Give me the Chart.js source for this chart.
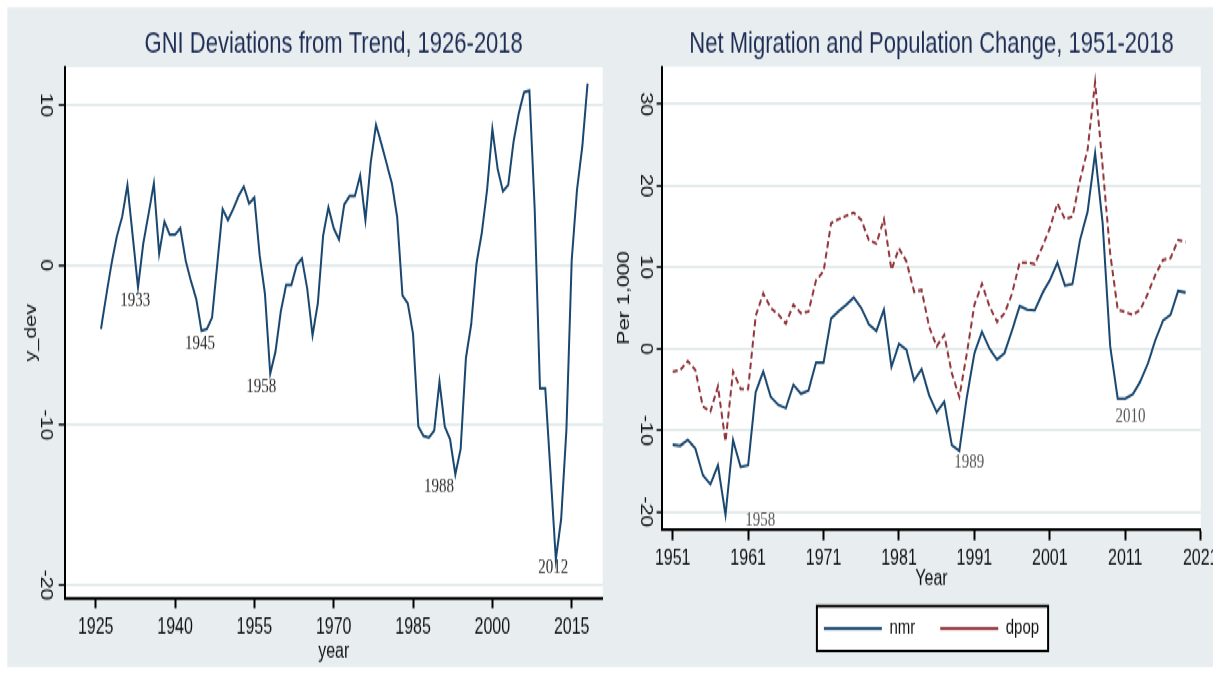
<!DOCTYPE html>
<html>
<head>
<meta charset="utf-8">
<script src="https://cdn.jsdelivr.net/npm/chart.js@4.4.1/dist/chart.umd.min.js"></script>
<style>
  html, body { margin: 0; padding: 0; background: #fff; overflow: hidden; }
  /* the source graph is stretched vertically, so draw at 500px tall and stretch */
  #stage { position: absolute; left: 0; top: 0; width: 1213px; height: 500px; transform: scaleY(1.348); transform-origin: 0 0; }
  .panel { position: absolute; top: 0; height: 500px; }
</style>
</head>
<body>
<div id="stage">
  <div class="panel" style="left:0;width:606px"><canvas id="gniChart"></canvas></div>
  <div class="panel" style="left:606px;width:607px"><canvas id="migChart"></canvas></div>
</div>
<script>
// ---- left panel: GNI deviations from trend ----
const gniFirstYear = 1926;
const gniDev = [
  -4.0, -1.9, 0.1, 1.8, 3.0, 5.0, 1.8, -1.4, 1.35, 3.2,        // 1926-1935
  5.1, 0.7, 2.7, 1.9, 1.9, 2.3, 0.3, -1.0, -2.1, -4.1,         // 1936-1945
  -4.0, -3.3, 0.1, 3.5, 2.8, 3.5, 4.3, 4.9, 3.85, 4.2,         // 1946-1955
  0.6, -1.8, -6.8, -5.4, -2.9, -1.25, -1.25, 0.0, 0.4, -1.5,   // 1956-1965
  -4.4, -2.4, 1.85, 3.6, 2.3, 1.6, 3.8, 4.3, 4.3, 5.6,         // 1966-1975
  2.8, 6.4, 8.75, 7.6, 6.35, 5.1, 3.0, -1.9, -2.4, -4.3,       // 1976-1985
  -10.1, -10.7, -10.8, -10.35, -7.3, -10.1, -10.9, -13.1, -11.5, -5.8, // 1986-1995
  -3.7, 0.1, 2.0, 4.7, 8.5, 6.0, 4.6, 5.0, 7.7, 9.5,           // 1996-2005
  10.8, 10.9, 3.5, -7.7, -7.7, -13.0, -18.4, -15.9, -10.3, 0.3, // 2006-2015
  4.7, 7.4, 11.35                                              // 2016-2018
];
const gniXTicks = [1925, 1940, 1955, 1970, 1985, 2000, 2015];
const gniYTicks = [-20, -10, 0, 10];
const gniNoteText = ['1933', '1945', '1958', '1988', '2012'];
const gniNoteX = [1932.5, 1944.7, 1956.3, 1989.9, 2011.5];
const gniNoteY = [-2.2, -4.9, -7.6, -13.9, -18.9];

// ---- right panel: net migration and population change ----
const migFirstYear = 1951;
const nmr = [
  -11.8, -11.9, -11.2, -12.2, -15.5, -16.6, -14.3, -20.4, -11.2, -14.5, // 1951-1960
  -14.3, -5.3, -2.8, -5.9, -6.9, -7.3, -4.4, -5.5, -5.1, -1.7,          // 1961-1970
  -1.7, 3.7, 4.6, 5.4, 6.3, 5.0, 3.0, 2.2, 4.8, -2.2,                   // 1971-1980
  0.6, -0.15, -3.9, -2.5, -5.7, -7.8, -6.5, -11.8, -12.5, -5.9,         // 1981-1990
  -0.55, 2.1, 0.0, -1.3, -0.5, 2.3, 5.25, 4.8, 4.7, 6.8,                // 1991-2000
  8.4, 10.6, 7.75, 7.95, 13.35, 16.8, 24.0, 15.4, 0.3, -6.1,            // 2001-2010
  -6.1, -5.55, -4.0, -1.8, 1.1, 3.45, 4.15, 7.1, 6.9                    // 2011-2019
];
const dpop = [
  -2.8, -2.6, -1.5, -2.6, -7.1, -7.7, -4.6, -11.4, -2.8, -4.9,          // 1951-1960
  -4.9, 4.0, 6.8, 5.0, 4.2, 3.1, 5.4, 4.35, 4.55, 8.4,                  // 1961-1970
  9.5, 15.4, 15.9, 16.3, 16.7, 15.8, 13.35, 12.9, 15.9, 9.7,            // 1971-1980
  12.3, 10.7, 7.0, 7.2, 2.7, 0.3, 1.7, -3.0, -5.9, -0.55,               // 1981-1990
  5.4, 7.95, 5.2, 3.3, 4.35, 6.8, 10.6, 10.6, 10.4, 12.5,               // 1991-2000
  14.8, 17.85, 15.9, 16.2, 20.7, 24.4, 32.7, 22.3, 11.7, 4.8,           // 2001-2010
  4.5, 4.15, 4.8, 6.8, 9.1, 10.9, 11.1, 13.35, 13.1                     // 2011-2019
];
const migXTicks = [1951, 1961, 1971, 1981, 1991, 2001, 2011, 2021];
const migYTicks = [-20, -10, 0, 10, 20, 30];
const migNoteText = ['1958', '1989', '2010'];
const migNoteX = [1962.6, 1990.3, 2011.7];
const migNoteY = [-21.0, -14.0, -8.4];

const BG = '#e8eef0';
const GRID = '#e4ebed';
const NAVY = '#1a476f';
const MAROON = '#90353b';
const sans = "'Liberation Sans', Arial, Helvetica, sans-serif";
const serif = "'Liberation Serif', 'Times New Roman', serif";

const toPoints = (first, values) => values.map((v, i) => ({ x: first + i, y: v }));
const fixedTicks = list => scale => { scale.ticks = list.map(v => ({ value: v })); };
// fixed axis height; the cut-off last tick label must not shrink the plot
const xBox = h => s => { s.height = h; s.paddingLeft = 0; s.paddingRight = 0; };

// grey graph region, white plot region, framed legend
const backdrop = (left) => ({
  id: 'backdrop',
  beforeDraw(chart) {
    const { ctx, chartArea: a, width } = chart;
    ctx.save();
    ctx.fillStyle = '#fff';
    ctx.fillRect(0, 0, width, chart.height);
    ctx.fillStyle = BG;
    ctx.fillRect(left, 5.4, width - left, 489.4);
    ctx.fillStyle = '#fff';
    ctx.fillRect(a.left, a.top, a.right - a.left, a.bottom - a.top);
    const lg = chart.legend;
    if (lg && lg.options.display && lg.legendHitBoxes.length) {
      const hb = lg.legendHitBoxes;
      const last = hb[hb.length - 1];
      const x0 = hb[0].left - 7;
      const x1 = last.left + last.width + 9;
      const cy = hb[0].top + hb[0].height / 2;
      ctx.fillRect(x0, cy - 16.7, x1 - x0, 33.4);
      ctx.lineWidth = 2;
      ctx.strokeStyle = '#000';
      ctx.strokeRect(x0, cy - 16.7, x1 - x0, 33.4);
    }
    ctx.restore();
  }
});

// year labels written next to the troughs
const notes = (texts, xs, ys, color) => ({
  id: 'notes',
  afterDatasetsDraw(chart) {
    const { ctx, scales: { x, y } } = chart;
    ctx.save();
    ctx.font = '15px ' + serif;
    ctx.fillStyle = color;
    ctx.textAlign = 'center';
    ctx.textBaseline = 'middle';
    texts.forEach((t, i) => ctx.fillText(t, x.getPixelForValue(xs[i]), y.getPixelForValue(ys[i])));
    ctx.restore();
  }
});

const tickFont = { family: sans, size: 16 };
const titleColor = '#1f2d55';

const gniCtx = document.getElementById('gniChart').getContext('2d');
const gniChart = new Chart(gniCtx, {
  type: 'line',
  data: {
    datasets: [{
      label: 'y_dev',
      data: toPoints(gniFirstYear, gniDev),
      borderColor: NAVY,
      borderWidth: 2,
      pointRadius: 0,
      tension: 0,
      fill: false
    }]
  },
  options: {
    responsive: true,
    maintainAspectRatio: false,
    animation: false,
    events: [],
    layout: { autoPadding: false, padding: { left: 0, right: 3.3, top: 0, bottom: 0 } },
    plugins: {
      legend: { display: false },
      tooltip: { enabled: false },
      title: {
        display: true,
        fullSize: false,
        text: 'GNI Deviations from Trend, 1926-2018',
        color: titleColor,
        font: { family: sans, size: 22, weight: 'normal' },
        padding: { top: 19.6, bottom: 3.9 }
      }
    },
    scales: {
      x: {
        type: 'linear',
        min: 1919.14,
        max: 2020.86,
        afterBuildTicks: fixedTicks(gniXTicks),
        afterFit: xBox(56.2),
        grid: { drawOnChartArea: false, tickLength: 7.4, tickColor: '#000', tickWidth: 2 },
        border: { display: true, color: '#000', width: 2 },
        ticks: { autoSkip: false, minRotation: 0, maxRotation: 0, padding: 4.5, color: '#111', font: tickFont, callback: v => String(v) },
        title: { display: true, text: 'year', color: '#111', font: tickFont, padding: { top: 0, bottom: 6.8 } }
      },
      y: {
        type: 'linear',
        min: -20.83,
        max: 12.36,
        afterBuildTicks: fixedTicks(gniYTicks),
        afterFit: s => { s.width = 64.7; },
        grid: { color: GRID, lineWidth: 2, tickLength: 6, tickColor: '#000', tickWidth: 1.5 },
        border: { display: true, color: '#000', width: 2 },
        ticks: { autoSkip: false, minRotation: -90, maxRotation: -90, crossAlign: 'center', padding: 1.3, color: '#111', font: tickFont, callback: v => String(v) },
        title: { display: true, text: 'y_dev', color: '#111', font: tickFont, padding: { top: 22.4, bottom: 0 } }
      }
    }
  },
  plugins: [backdrop(7.3), notes(gniNoteText, gniNoteX, gniNoteY, '#2a2a2a')]
});

const migCtx = document.getElementById('migChart').getContext('2d');
const migChart = new Chart(migCtx, {
  type: 'line',
  data: {
    datasets: [{
      label: 'nmr',
      data: toPoints(migFirstYear, nmr),
      borderColor: NAVY,
      borderWidth: 2,
      pointRadius: 0,
      tension: 0,
      fill: false
    }, {
      label: 'dpop',
      data: toPoints(migFirstYear, dpop),
      borderColor: MAROON,
      borderWidth: 2,
      borderDash: [5, 3],
      pointRadius: 0,
      tension: 0,
      fill: false
    }]
  },
  options: {
    responsive: true,
    maintainAspectRatio: false,
    animation: false,
    events: [],
    layout: { autoPadding: false, padding: { left: 0, right: 12.3, top: 0, bottom: 16.2 } },
    plugins: {
      tooltip: { enabled: false },
      title: {
        display: true,
        fullSize: false,
        text: 'Net Migration and Population Change, 1951-2018',
        color: titleColor,
        font: { family: sans, size: 22, weight: 'normal' },
        padding: { top: 19.6, bottom: 3.5 }
      },
      legend: {
        display: true,
        position: 'bottom',
        fullSize: false,
        align: 'center',
        labels: {
          usePointStyle: true,
          pointStyle: 'line',
          pointStyleWidth: 58,
          boxWidth: 58,
          padding: 25,
          color: '#111',
          font: { family: sans, size: 15 }
        }
      }
    },
    scales: {
      x: {
        type: 'linear',
        min: 1949.62,
        max: 2021,
        afterBuildTicks: fixedTicks(migXTicks),
        afterFit: xBox(41.1),
        grid: { drawOnChartArea: false, tickLength: 8, tickColor: '#000', tickWidth: 2 },
        border: { display: true, color: '#000', width: 2 },
        ticks: { autoSkip: false, minRotation: 0, maxRotation: 0, padding: 4, color: '#111', font: tickFont, callback: v => String(v) },
        title: { display: true, text: 'Year', color: '#111', font: { family: sans, size: 16, lineHeight: 0.5 }, padding: { top: 0, bottom: 0.3 } }
      },
      y: {
        type: 'linear',
        min: -22.15,
        max: 34.6,
        afterBuildTicks: fixedTicks(migYTicks),
        afterFit: s => { s.width = 56.3; },
        grid: { color: GRID, lineWidth: 2, tickLength: 5.7, tickColor: '#000', tickWidth: 1.5 },
        border: { display: true, color: '#000', width: 2 },
        ticks: { autoSkip: false, minRotation: -90, maxRotation: -90, crossAlign: 'center', padding: 0, color: '#111', font: tickFont, callback: v => String(v) },
        title: { display: true, text: 'Per 1,000', color: '#111', font: tickFont, padding: { top: 9.4, bottom: 0 } }
      }
    }
  },
  plugins: [backdrop(0), notes(migNoteText, migNoteX, migNoteY, '#555')]
});
</script>
</body>
</html>
